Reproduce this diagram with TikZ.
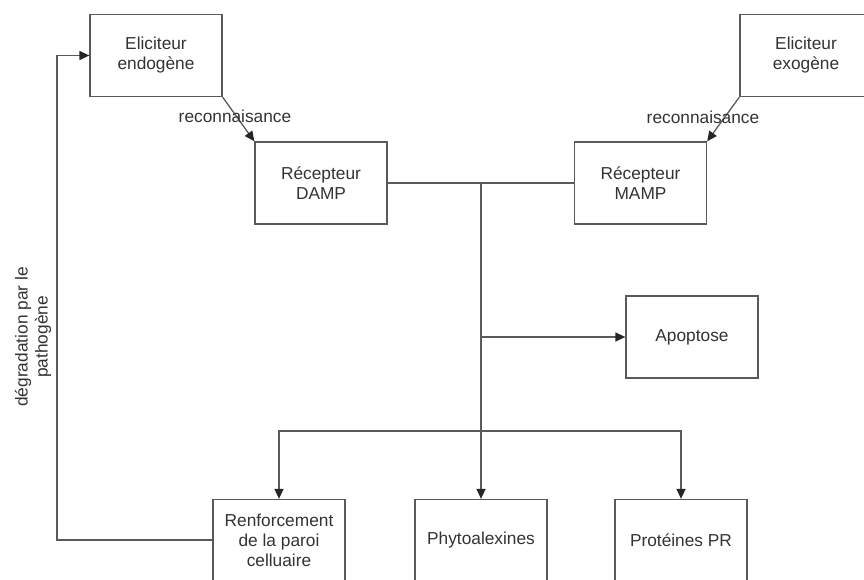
\documentclass[tikz,border=0pt]{standalone}
\usepackage{fontspec}
\setmainfont{Liberation Sans}
\usetikzlibrary{arrows.meta}
\definecolor{ln}{HTML}{5A5A5A}
\definecolor{tx}{HTML}{333333}
\begin{document}
\begin{tikzpicture}[x=1pt,y=-1pt,
  box/.style={draw=ln,line width=1.3pt,minimum width=132pt,minimum height=82pt,inner sep=0pt,align=center,text=tx,font=\fontsize{17.3}{20}\selectfont},
  lbl/.style={text=tx,font=\fontsize{17.3}{20}\selectfont,inner sep=0pt,align=center},
  conn/.style={draw=ln,line width=1.3pt},
  arr/.style={conn,-{Triangle[length=10pt,width=9pt,color=black!85]}}]
\useasboundingbox (0,0) rectangle (864,579);
\node[box] (endo) at (156,55.5) {Eliciteur\\endogène};
\node[box] (exo) at (806,55.5) {Eliciteur\\exogène};
\node[box] (damp) at (321,183) {Récepteur\\DAMP};
\node[box] (mamp) at (640.5,183) {Récepteur\\MAMP};
\node[box] (apop) at (692,337) {Apoptose};
\node[box] (renf) at (279,540.5) {Renforcement\\de la paroi\\celluaire};
\node[box] (phyto) at (481,540.5) {Phytoalexines};
\node[box] (prot) at (681,540.5) {Protéines PR};
\draw[arr] (endo.south east) -- (damp.north west);
\draw[arr] (exo.south west) -- (mamp.north east);
\node[lbl] (l1) at (235,116) {reconnaisance};
\node[lbl] (l2) at (703,117) {reconnaisance};
\draw[conn] (damp.east) -- (mamp.west);
\coordinate (j) at (481,183);
\coordinate (ja) at (481,337);
\coordinate (jb) at (481,431);
\draw[arr] (j) -- (phyto.north);
\draw[arr] (ja) -- (apop.west);
\draw[arr] (jb) -| (renf.north);
\draw[arr] (jb) -| (prot.north);
\coordinate (fb) at (57,540);
\draw[arr] (renf.west |- fb) -- (fb) |- (endo.west);
\node[lbl,rotate=90] (l3) at (33,337) {dégradation par le\\pathogène};
\end{tikzpicture}
\end{document}
